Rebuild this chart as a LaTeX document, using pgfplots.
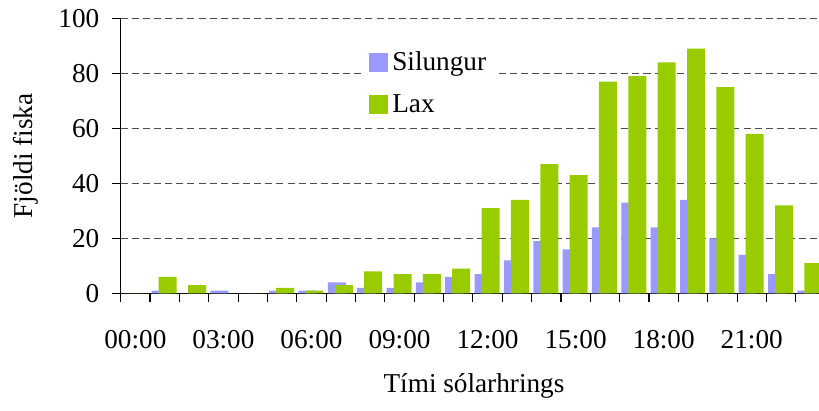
\documentclass[border=0pt]{standalone}
\usepackage{fontspec}
\setmainfont{Liberation Serif}
\usepackage{pgfplots}
\pgfplotsset{compat=1.18}
\definecolor{silc}{HTML}{9999FF}
\definecolor{laxc}{HTML}{99CC00}
\begin{document}
\begin{tikzpicture}
\begin{axis}[
  at={(53.17pt,-129.2pt)}, anchor=south west,
  x=12.93pt, y=1.2114pt,
  xmin=-0.5, xmax=23.29, ymin=0, ymax=100,
  axis x line=bottom, axis y line=left,
  axis line style={-, black, line width=0.6pt},
  tick align=outside,
  major tick length=3.7pt,
  tick style={black, line width=0.5pt},
  xtick={-0.5,0.5,...,22.5},
  xticklabels={},
  extra x ticks={0,3,6,9,12,15,18,21},
  extra x tick labels={00:00,03:00,06:00,09:00,12:00,15:00,18:00,21:00},
  extra x tick style={major tick length=0pt, grid=none, xticklabel style={yshift=-13pt}},
  ytick={0,20,...,100},
  ymajorgrids,
  grid style={dash pattern=on 3.1pt off 1.8pt, black!70, line width=0.45pt},
  /pgf/number format/assume math mode=true,
  tick label style={font=\fontsize{12}{14}\selectfont},
  label style={font=\fontsize{12}{14}\selectfont},
  yticklabel style={anchor=east, xshift=-2.2pt},
  xlabel={Tími sólarhrings},
  ylabel={Fjöldi fiska},
  xlabel style={at={(rel axis cs:0.506,-0.36)}, anchor=base},
  ylabel style={at={(rel axis cs:-0.1365,0.5)}, anchor=center},
  legend style={draw=none, fill=white, at={(axis cs:7.78,91.4)}, anchor=north west,
    font=\fontsize{12}{14}\selectfont, row sep=5pt, inner sep=2pt},
  legend cell align=left,
  legend image code/.code={\fill[#1] (0pt,-4.2pt) rectangle (8.4pt,4.2pt);},
]
\addplot[ybar, bar width=7.93pt, bar shift=-1.76pt, fill=silc, draw=none] coordinates {
(0,0) (1,1) (2,0) (3,1) (4,0) (5,1) (6,1) (7,4) (8,2) (9,2) (10,4) (11,6)
(12,7) (13,12) (14,19) (15,16) (16,24) (17,33) (18,24) (19,34) (20,20) (21,14) (22,7) (23,1)};
\addlegendentry{Silungur}
\addplot[ybar, bar width=7.93pt, bar shift=1.32pt, fill=laxc, draw=none] coordinates {
(0,0) (1,6) (2,3) (3,0) (4,0) (5,2) (6,1) (7,3) (8,8) (9,7) (10,7) (11,9)
(12,31) (13,34) (14,47) (15,43) (16,77) (17,79) (18,84) (19,89) (20,75) (21,58) (22,32) (23,11)};
\addlegendentry{Lax}
\end{axis}
\pgfresetboundingbox
\useasboundingbox (0,0) rectangle (360.8pt,-181.06pt);
\end{tikzpicture}
\end{document}
